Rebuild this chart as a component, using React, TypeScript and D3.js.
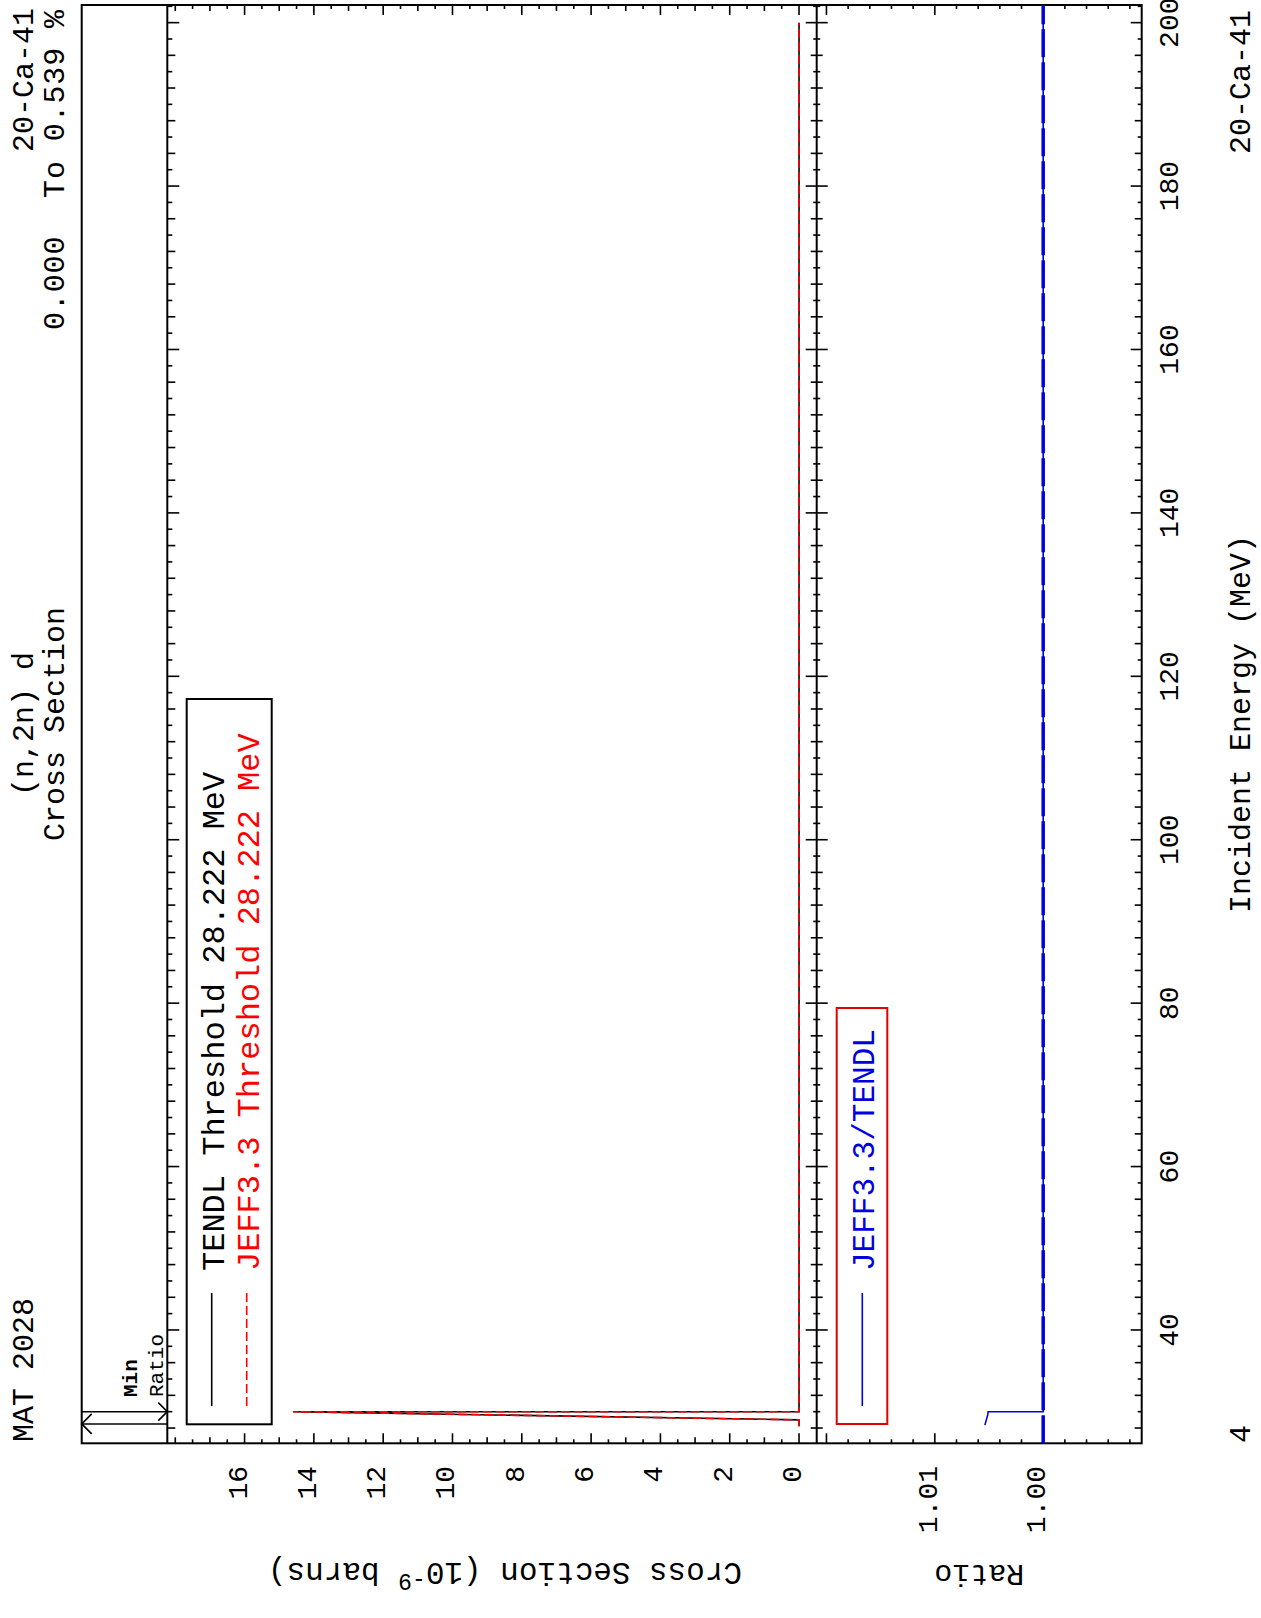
import { useEffect, useRef } from 'react';
import * as d3 from 'd3';

// tick labels
const energyTicks = [40, 60, 80, 100, 120, 140, 160, 180, 200];
const sigmaTicks = [0, 2, 4, 6, 8, 10, 12, 14, 16];
const ratioTicks = [1.0, 1.01];

// curves (energy in MeV, cross section in 1e-9 b)
const tendlE = [28.222, 29.0, 30.0, 30.0, 200];
const tendlXS = [0, 0, 14.6, 0, 0];
const jeffE = [28.222, 29.0, 30.0, 30.0, 200];
const jeffXS = [0, 0, 14.6, 0, 0];
const ratioE = [28.35, 29.6, 30.0, 30.0, 200];
const ratioV = [1.00538, 1.00512, 1.00508, 1.0, 1.0];
const minRatioE = [28.5, 30.0];

const FONT = '"Liberation Mono", "DejaVu Sans Mono", monospace';
const W = 1618; // landscape page, rotated onto the portrait canvas
const H = 1261;

const App = () => {
  const svgRef = useRef<SVGSVGElement>(null);

  useEffect(() => {
    const root = d3.select(svgRef.current);
    root.selectAll('*').remove();
    root.append('rect').attr('width', H).attr('height', W).attr('fill', '#fff');

    const g = root.append('g').attr('transform', `translate(0,${W}) rotate(-90)`);

    // plot frame
    const left = 174.7, right = 1613, top = 81.7, bottom = 1141.7;
    const stripY = 167.3, divY = 816.7;

    const x = d3.scaleLinear().domain([26.13, 202.16]).range([left, right]);
    const yS = d3.scaleLinear().domain([-0.51, 18.23]).range([divY, stripY]);
    const yR = d3.scaleLinear().domain([0.99091, 1.0209]).range([bottom, divY]);

    const txt = (xx: number, yy: number, s: string, size: number, anchor = 'start', color = '#000') =>
      g.append('text')
        .attr('x', xx).attr('y', yy)
        .attr('font-family', FONT).attr('font-size', size)
        .attr('text-anchor', anchor).attr('fill', color)
        .style('white-space', 'pre')
        .text(s);

    // Frame and panel lines
    g.append('rect').attr('x', left).attr('y', top).attr('width', right - left).attr('height', bottom - top)
      .attr('fill', 'none').attr('stroke', '#000').attr('stroke-width', 2);
    [stripY, divY].forEach(yy => {
      g.append('line').attr('x1', left).attr('x2', right).attr('y1', yy).attr('y2', yy)
        .attr('stroke', '#000').attr('stroke-width', 2);
    });

    const tick = (x1: number, y1: number, x2: number, y2: number) =>
      g.append('line').attr('x1', x1).attr('y1', y1).attr('x2', x2).attr('y2', y2)
        .attr('stroke', '#000').attr('stroke-width', 1.6);

    // Energy ticks every 2 MeV
    d3.range(28, 203, 2).forEach(e => {
      const xx = x(e);
      const major = e % 20 === 0, mid = e % 4 === 0;
      tick(xx, bottom, xx, bottom - (major ? 11 : mid ? 7 : 4));
      tick(xx, stripY, xx, stripY + (major ? 12 : mid ? 8 : 5));
      const d = major ? 11 : mid ? 6 : 3.5;
      tick(xx, divY - d, xx, divY + d);
    });

    // Cross section ticks
    d3.range(0, 37).forEach(i => {
      const v = i * 0.5;
      const len = i % 4 === 0 && v <= 16 ? 10 : i % 2 === 0 ? 6 : 4;
      tick(left, yS(v), left + len, yS(v));
      tick(right, yS(v), right - len, yS(v));
    });

    // Ratio ticks
    d3.range(496, 511).forEach(i => {
      const v = i * 0.002;
      const len = i % 5 === 0 ? 10 : 4;
      tick(left, yR(v), left + len, yR(v));
      tick(right, yR(v), right - len, yR(v));
    });

    // Tick labels
    energyTicks.forEach(e => txt(x(e), 1178, String(e), 28, 'middle'));
    sigmaTicks.forEach(v => txt(152, yS(v) + 2, String(v), 28, 'end'));
    ratioTicks.forEach(v => txt(152, yR(v) + 2, v.toFixed(2), 28, 'end'));

    // Curves
    const line = d3.line<[number, number]>().x(d => x(d[0])).y(d => d[1]);
    const tendl = tendlE.map((e, i) => [e, yS(tendlXS[i])] as [number, number]);
    const jeff = jeffE.map((e, i) => [e, yS(jeffXS[i])] as [number, number]);
    const ratio = ratioE.map((e, i) => [e, yR(ratioV[i])] as [number, number]);

    g.append('path').attr('d', line(tendl)).attr('fill', 'none').attr('stroke', '#000').attr('stroke-width', 1.6);
    g.append('path').attr('d', line(jeff)).attr('fill', 'none').attr('stroke', '#ff0000')
      .attr('stroke-width', 1.6).attr('stroke-dasharray', '9,4');

    // ratio = 1 reference and ratio curve
    g.append('line').attr('x1', left).attr('x2', right).attr('y1', yR(1)).attr('y2', yR(1))
      .attr('stroke', '#0000e0').attr('stroke-width', 3.5).attr('stroke-dasharray', '28,5');
    g.append('path').attr('d', line(ratio)).attr('fill', 'none').attr('stroke', '#0000e0').attr('stroke-width', 1.6);

    // Min ratio strip marker
    const [m0, m1] = minRatioE.map(x);
    tick(m0, top, m0, stripY);
    tick(m1, top, m1, stripY);
    g.append('path').attr('d', `M${m0 - 10},${top + 10} L${m0},${top} L${m0 + 10},${top + 10}`)
      .attr('fill', 'none').attr('stroke', '#000').attr('stroke-width', 1.6);
    g.append('path').attr('d', `M${m1 - 9},${stripY - 9} L${m1},${stripY} L${m1 + 9},${stripY - 9}`)
      .attr('fill', 'none').attr('stroke', '#000').attr('stroke-width', 1.6);
    txt(221, 137, 'Min', 21).attr('font-weight', 'bold');
    txt(221, 163, 'Ratio', 21);

    // Cross-section legend
    g.append('rect').attr('x', 193.7).attr('y', 186.7).attr('width', 919 - 193.7).attr('height', 85)
      .attr('fill', '#fff').attr('stroke', '#000').attr('stroke-width', 2);
    tick(212, 211.7, 325, 211.7);
    g.append('line').attr('x1', 212).attr('x2', 325).attr('y1', 246.7).attr('y2', 246.7)
      .attr('stroke', '#ff0000').attr('stroke-width', 1.6).attr('stroke-dasharray', '9,4');
    txt(347, 224, 'TENDL Threshold 28.222 MeV', 32);
    txt(347, 259, 'JEFF3.3 Threshold 28.222 MeV', 32, 'start', '#ff0000');

    // Ratio legend
    g.append('rect').attr('x', 194).attr('y', 836.7).attr('width', 610 - 194).attr('height', 50.6)
      .attr('fill', '#fff').attr('stroke', '#e00000').attr('stroke-width', 2);
    g.append('line').attr('x1', 212).attr('x2', 325).attr('y1', 862.3).attr('y2', 862.3)
      .attr('stroke', '#0000e0').attr('stroke-width', 1.6);
    txt(347, 874, 'JEFF3.3/TENDL', 31, 'start', '#0000e0');

    // Header
    txt(176, 33, 'MAT 2028', 30);
    txt(894, 33, '(n,2n) d', 30, 'middle');
    txt(894, 64, 'Cross Section', 30, 'middle');
    txt(1610, 33, '20-Ca-41', 30, 'end');
    txt(1608, 64, '0.000  To 0.539 %', 30, 'end').attr('textLength', 320).attr('lengthAdjust', 'spacing');

    // Footer
    txt(175, 1250, '4', 30);
    txt(894, 1250, 'Incident Energy (MeV)', 30, 'middle');
    txt(1608, 1250, '20-Ca-41', 30, 'end');

    // Vertical axis titles
    const yTitle = g.append('text')
      .attr('transform', 'translate(55,505) rotate(-90)')
      .attr('font-family', FONT).attr('font-size', 31).attr('text-anchor', 'middle');
    yTitle.append('tspan').text('Cross Section (10');
    yTitle.append('tspan').attr('dy', -11).attr('font-size', 23).text('-9');
    yTitle.append('tspan').attr('dy', 11).text(' barns)');

    g.append('text')
      .attr('transform', `translate(53,${(divY + bottom) / 2}) rotate(-90)`)
      .attr('font-family', FONT).attr('font-size', 30).attr('text-anchor', 'middle')
      .text('Ratio');
  }, []);

  return (
    <svg
      ref={svgRef}
      width={H}
      height={W}
      style={{ position: 'absolute', left: 0, top: 0, display: 'block' }}
    />
  );
};

export default App;
